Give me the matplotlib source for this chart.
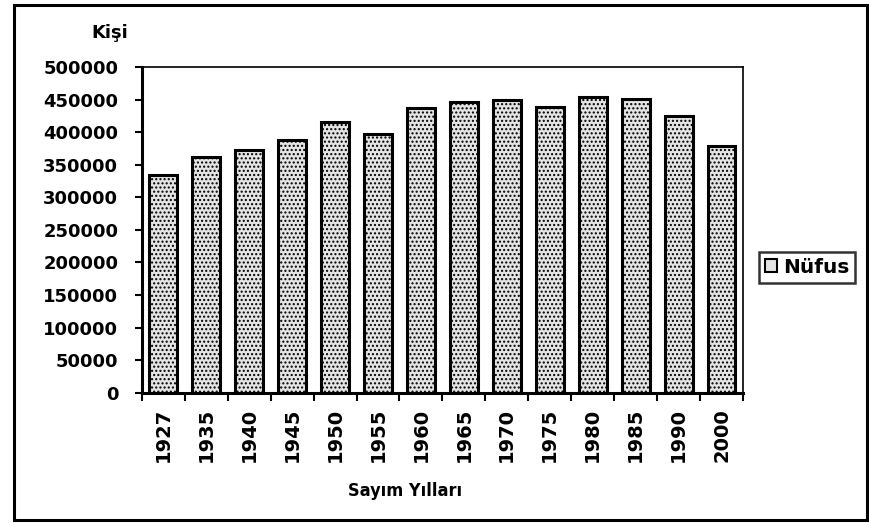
import matplotlib
matplotlib.use("Agg")
import matplotlib.pyplot as plt
from matplotlib.patches import Rectangle, Patch
from matplotlib.ticker import FixedLocator, MultipleLocator

# census years and population
years = ["1927", "1935", "1940", "1945", "1950", "1955", "1960",
         "1965", "1970", "1975", "1980", "1985", "1990", "2000"]
population = [334000, 362000, 373000, 388000, 415000, 397000, 437000,
              446000, 449000, 439000, 454000, 451000, 425000, 379000]

series_name = "Nüfus"
y_label = "Kişi"
x_label = "Sayım Yılları"

plt.rcParams["font.family"] = ["DejaVu Sans"]
plt.rcParams["font.weight"] = "bold"
plt.rcParams["hatch.color"] = "#8a8a8a"
plt.rcParams["hatch.linewidth"] = 1.0

fig = plt.figure(figsize=(8.7, 5.23), dpi=100)
ax = fig.add_axes([0.163, 0.249, 0.691, 0.623])

x = list(range(len(years)))
ax.bar(x, population, width=0.65, facecolor="#e4e4e4", edgecolor="black",
       linewidth=2.2, hatch="....", zorder=3)

ax.set_xlim(-0.5, len(years) - 0.5)
ax.set_ylim(0, 500000)
ax.yaxis.set_major_locator(MultipleLocator(50000))
ax.set_yticklabels([str(int(v)) for v in ax.get_yticks()])

# category labels at the centres, tick marks between categories
ax.set_xticks(x)
ax.set_xticklabels(years, rotation=90, fontsize=14, fontweight="bold")
ax.xaxis.set_minor_locator(FixedLocator([i - 0.5 for i in range(len(years) + 1)]))
ax.tick_params(axis="x", which="major", length=0, pad=11)
ax.tick_params(axis="x", which="minor", length=6, width=1.5, direction="out")
ax.tick_params(axis="y", length=5, width=1.5, direction="out", labelsize=13, pad=12)
for lbl in ax.get_yticklabels():
    lbl.set_fontweight("bold")

for side in ["left", "bottom"]:
    ax.spines[side].set_linewidth(2.2)
for side in ["top", "right"]:
    ax.spines[side].set_linewidth(1.2)

fig.text(0.126, 0.936, y_label, fontsize=13, fontweight="bold", ha="center", va="center")
fig.text(0.466, 0.062, x_label, fontsize=13, fontweight="bold", ha="center", va="center",
         fontstretch="condensed")

handle = Patch(facecolor="#e4e4e4", edgecolor="black", linewidth=1.5)
leg = fig.legend([handle], [series_name], loc="center left",
                 bbox_to_anchor=(0.872, 0.489), frameon=True, fancybox=False,
                 edgecolor="black", handlelength=0.6, handleheight=0.6,
                 handletextpad=0.3, borderpad=0.3, borderaxespad=0.0,
                 prop={"weight": "bold", "size": 14.5})
leg.get_frame().set_linewidth(1.8)

# outer chart border
fig.patches.append(Rectangle((0.016, 0.006), 0.981, 0.984, transform=fig.transFigure,
                             fill=False, edgecolor="black", linewidth=2.2))

fig.savefig("out.png", dpi=100)
